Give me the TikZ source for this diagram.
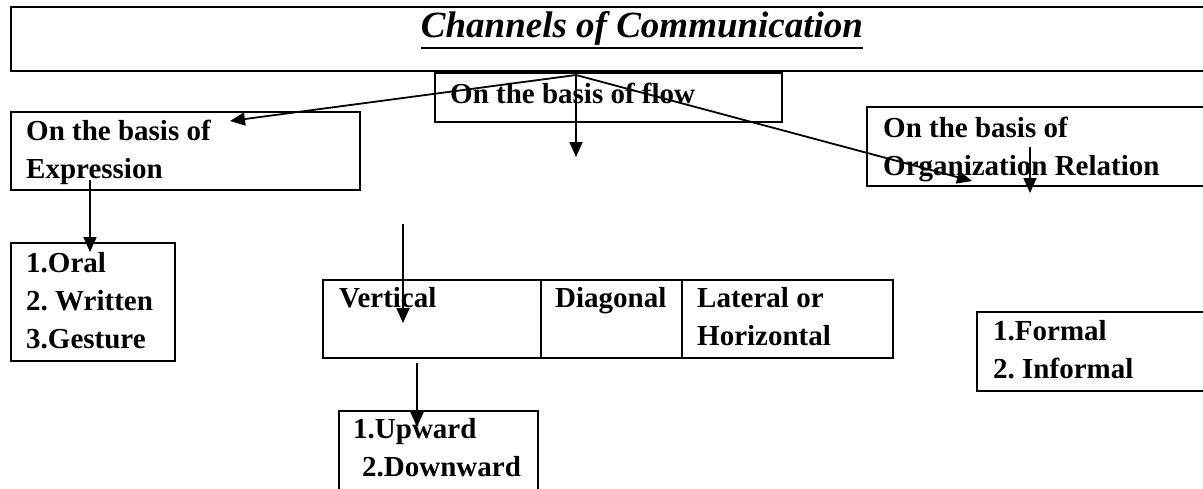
\documentclass[tikz,border=0pt]{standalone}
\usepackage{fontspec}
\setmainfont{Liberation Serif}
\usetikzlibrary{positioning,arrows.meta}

\begin{document}
\begin{tikzpicture}[x=1pt, y=-1pt]
    \tikzstyle{box}=[draw, line width=2pt, inner sep=0pt, outer sep=0pt, anchor=north west]
    \tikzstyle{txt}=[anchor=base west, inner sep=0pt, align=left, font=\fontsize{29}{38}\selectfont\bfseries\frenchspacing]
    \tikzstyle{arr}=[line width=1.8pt, -{Triangle[length=15pt, width=13pt]}]

    \useasboundingbox (0,0) rectangle (1203,488);
    \clip (0,0) rectangle (1203,488);

% heading
    \node[box, minimum width=1250, minimum height=64] (titlebox) at (11,7) {};
    \node[anchor=base, inner sep=0pt, font=\fontsize{37}{44}\selectfont\bfseries\itshape] (title) at (642,37) {Channels of Communication};
    \draw[line width=2.5pt] ([yshift=-11pt]title.base west) -- ([yshift=-11pt]title.base east);

% the three bases (base anchor sits on the last line)
    \node[box, minimum width=349, minimum height=78] (expr) at (11,112) {};
    \node[txt] (exprtxt) at ([xshift=15pt, yshift=-66pt]expr.north west) {On the basis of\\Expression};
    \node[box, minimum width=347, minimum height=49] (flow) at (435,73) {};
    \node[txt] (flowtxt) at ([xshift=15pt, yshift=-30pt]flow.north west) {On the basis of flow};
    \node[box, minimum width=400, minimum height=79] (org) at (867,107) {};
    \node[txt] (orgtxt) at ([xshift=16pt, yshift=-68pt]org.north west) {On the basis of\\Organization Relation};

% kinds
    \node[box, minimum width=164, minimum height=118] (oral) at (11,243) {};
    \node[txt] (oraltxt) at ([xshift=15pt, yshift=-105pt]oral.north west) {1.Oral\\2. Written\\3.Gesture};
    \node[box, minimum width=218, minimum height=78] (vert) at (323,280) {};
    \node[box, minimum width=141, minimum height=78, right=0pt of vert.north east, anchor=north west] (diag) {};
    \node[box, minimum width=211, minimum height=78, right=0pt of diag.north east, anchor=north west] (lat) {};
    \node[txt] (verttxt) at ([xshift=16pt, yshift=-27pt]vert.north west) {Vertical};
    \node[txt] (diagtxt) at ([xshift=14pt, yshift=-27pt]diag.north west) {Diagonal};
    \node[txt] (lattxt) at ([xshift=15pt, yshift=-65pt]lat.north west) {Lateral or\\Horizontal};
    \node[box, minimum width=199, minimum height=120] (updown) at (339,411) {};
    \node[txt] (updowntxt) at ([xshift=14pt, yshift=-65pt]updown.north west) {1.Upward\\\hspace*{9pt}2.Downward};
    \node[box, minimum width=300, minimum height=79] (formal) at (977,312) {};
    \node[txt] (formaltxt) at ([xshift=16pt, yshift=-66pt]formal.north west) {1.Formal\\2. Informal};

% arrows
    \coordinate (hub) at (576,75);
    \coordinate (exprend) at (230,121);
    \coordinate (flowend) at (576,157);
    \coordinate (orgend) at (972,181);
    \draw[arr] (hub) -- (exprend);
    \draw[arr] (hub) -- (flowend);
    \draw[arr] (hub) -- (orgend);
    \coordinate (exprfrom) at (90,180);
    \coordinate (oralto) at (90,252);
    \draw[arr] (exprfrom) -- (oralto);
    \coordinate (orgfrom) at (1030,147);
    \coordinate (orgto) at (1030,193);
    \draw[arr] (orgfrom) -- (orgto);
    \coordinate (vertfrom) at (403,224);
    \coordinate (vertto) at (403,323);
    \draw[arr] (vertfrom) -- (vertto);
    \coordinate (updownfrom) at (417,363);
    \coordinate (updownto) at (417,427);
    \draw[arr] (updownfrom) -- (updownto);
\end{tikzpicture}
\end{document}
